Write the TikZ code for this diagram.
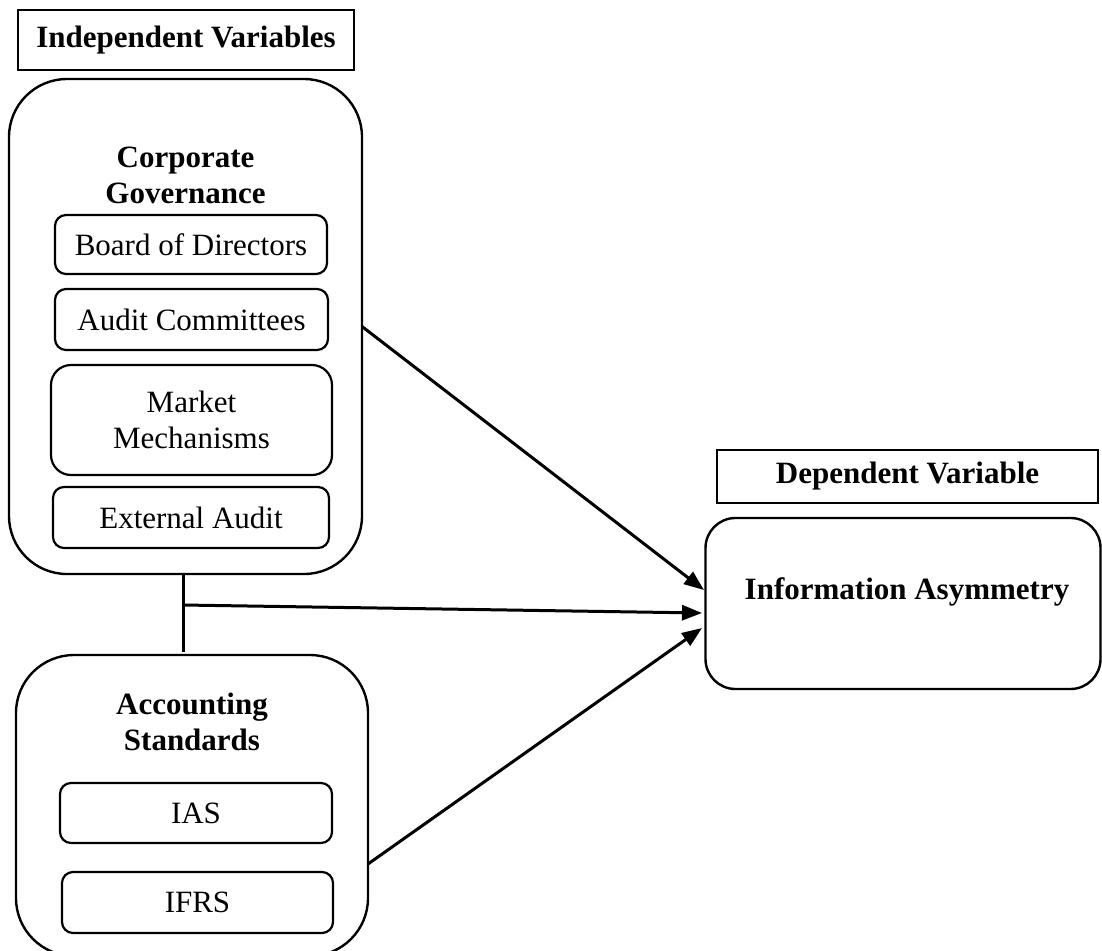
\documentclass[tikz,border=0pt]{standalone}
\usepackage{fontspec}
\setmainfont{Liberation Serif}
\usetikzlibrary{arrows.meta,positioning,calc}
\begin{document}
\begin{tikzpicture}[x=1pt,y=-1pt,
  every node/.style={font=\fontsize{31}{36}\selectfont, inner sep=0pt, outer sep=0pt},
  titlebox/.style={draw, line width=1.3pt, rectangle, font=\fontsize{31}{36}\selectfont\bfseries},
  bigbox/.style={draw, line width=2.4pt, rounded corners=#1},
  itembox/.style={draw, line width=2.2pt, rounded corners=11pt},
  heading/.style={align=center, font=\fontsize{31}{36}\selectfont\bfseries},
  conn/.style={line width=3pt},
  arr/.style={line width=3pt, -{Triangle[length=20pt,width=15pt]}}
]
\useasboundingbox (0,0) rectangle (1102,950);

% title boxes
\node[titlebox, minimum width=336pt, minimum height=60pt] (iv) at (186,40) {Independent Variables};
\node[titlebox, minimum width=381pt, minimum height=53pt] (dv) at (907.5,476.5) {Dependent Variable};

% Corporate governance group
\node[bigbox=58pt, minimum width=353pt, minimum height=495pt] (cg) at (185.5,326.5) {};
\node[heading] (cgt) at (185.5,175) {Corporate\\Governance};
\node[itembox, minimum width=272pt, minimum height=59pt] (bod) at (191,244.5) {Board of Directors};
\node[itembox, minimum width=273pt, minimum height=61pt] (ac) at (191.5,319.5) {Audit Committees};
\node[bigbox=20pt, line width=2.2pt, minimum width=281pt, minimum height=110pt, align=center] (mm) at (191.5,420) {Market\\Mechanisms};
\node[itembox, minimum width=276pt, minimum height=61pt] (ea) at (191,517.5) {External Audit};

% Accounting standards group
\node[bigbox=58pt, minimum width=352pt, minimum height=301pt] (as) at (192,805.5) {};
\node[heading] (ast) at (192,722) {Accounting\\Standards};
\node[itembox, minimum width=272pt, minimum height=60pt] (ias) at (196,813) {IAS};
\node[itembox, minimum width=271pt, minimum height=61pt] (ifrs) at (197.5,902.5) {IFRS};

% Dependent variable
\node[bigbox=30pt, minimum width=395pt, minimum height=171pt] (ia) at (903,603.5) {};
\node[heading] (iat) at (907,592) {Information Asymmetry};

% connectors
\coordinate (cgb) at (183,574);
\coordinate (ast0) at (183,652);
\coordinate (j) at (183,605);
\coordinate (ase) at (368,864);
\coordinate (t1) at (704,590);
\coordinate (t2) at (702,613);
\coordinate (t3) at (702,628);
\draw[conn] (cgb) -- (ast0);
\draw[arr] (cg.east) -- (t1);
\draw[arr] (j) -- (t2);
\draw[arr] (ase) -- (t3);
\end{tikzpicture}
\end{document}
